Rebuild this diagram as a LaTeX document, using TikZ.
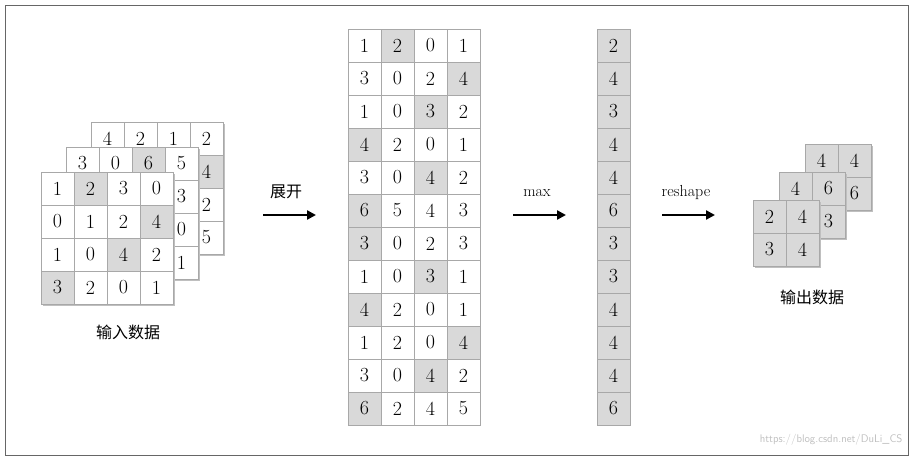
\documentclass[tikz,border=0pt]{standalone}
\usepackage{fontspec}
\newfontfamily\cjk{Noto Sans CJK SC}
\usetikzlibrary{arrows.meta}
\definecolor{cellg}{HTML}{D9D9D9}
\definecolor{linec}{HTML}{A8A8A8}
\tikzset{
  cell/.style={draw=linec, fill=white, minimum size=33pt, inner sep=0pt, outer sep=0pt, font=\fontsize{20}{20}\selectfont},
  gcell/.style={cell, fill=cellg},
  flow/.style={line width=2.6pt, -{Triangle[length=9pt,width=9pt]}},
  lab/.style={font=\fontsize{16}{16}\selectfont},
  cjklab/.style={font=\cjk\fontsize{16}{16}\selectfont},
  shade/.style={fill=black!25}
}
% #1 name, #2 row, #3 x0, #4 y0, #5 values, #6 gray col (0 = all)
\newcommand\gridrow[6]{%
  \foreach \v [count=\c] in {#5} {%
    \ifnum#6=0 \def\st{gcell}\else\ifnum\c=#6 \def\st{gcell}\else\def\st{cell}\fi\fi
    \node[\st] (#1-#2-\c) at ({#3+(\c-0.5)*33},{#4+(#2-0.5)*33}) {\v};
  }}
% #1 x0, #2 y0, #3 cols, #4 rows
\newcommand\gridshade[4]{\fill[shade] ({#1+2},{#2+2}) rectangle ({#1+#3*33+2},{#2+#4*33+2});}
\begin{document}
\begin{tikzpicture}[x=1pt,y=-1pt]
\useasboundingbox (0,0) rectangle (914,460);
\draw[black!60, line width=0.8pt] (5,5) rectangle (908,455);
% input stack
\gridshade{91}{122}{4}{4}
\gridrow{ib}{1}{91}{122}{4,2,1,2}{9}
\gridrow{ib}{2}{91}{122}{,,,4}{4}
\gridrow{ib}{3}{91}{122}{,,,2}{9}
\gridrow{ib}{4}{91}{122}{,,,5}{9}
\gridshade{66}{147}{4}{4}
\gridrow{im}{1}{66}{147}{3,0,6,5}{3}
\gridrow{im}{2}{66}{147}{,,,3}{9}
\gridrow{im}{3}{66}{147}{,,,0}{9}
\gridrow{im}{4}{66}{147}{,,,1}{9}
\gridshade{41}{172}{4}{4}
\gridrow{if}{1}{41}{172}{1,2,3,0}{2}
\gridrow{if}{2}{41}{172}{0,1,2,4}{4}
\gridrow{if}{3}{41}{172}{1,0,4,2}{3}
\gridrow{if}{4}{41}{172}{3,2,0,1}{1}
\node[cjklab] (inlab) at (128,332) {输入数据};
% unfolded
\gridrow{u}{1}{348}{29}{1,2,0,1}{2}
\gridrow{u}{2}{348}{29}{3,0,2,4}{4}
\gridrow{u}{3}{348}{29}{1,0,3,2}{3}
\gridrow{u}{4}{348}{29}{4,2,0,1}{1}
\gridrow{u}{5}{348}{29}{3,0,4,2}{3}
\gridrow{u}{6}{348}{29}{6,5,4,3}{1}
\gridrow{u}{7}{348}{29}{3,0,2,3}{1}
\gridrow{u}{8}{348}{29}{1,0,3,1}{3}
\gridrow{u}{9}{348}{29}{4,2,0,1}{1}
\gridrow{u}{10}{348}{29}{1,2,0,4}{4}
\gridrow{u}{11}{348}{29}{3,0,4,2}{3}
\gridrow{u}{12}{348}{29}{6,2,4,5}{1}
% max column
\foreach \v [count=\r] in {2,4,3,4,4,6,3,3,4,4,4,6} {
  \node[gcell] (m-\r) at (613.5,{29+(\r-0.5)*33}) {\v};
}
% output stack
\gridshade{805}{144}{2}{2}
\gridrow{ob}{1}{805}{144}{4,4}{0}
\gridrow{ob}{2}{805}{144}{,6}{0}
\gridshade{779}{172}{2}{2}
\gridrow{om}{1}{779}{172}{4,6}{0}
\gridrow{om}{2}{779}{172}{,3}{0}
\gridshade{753}{200}{2}{2}
\gridrow{of}{1}{753}{200}{2,4}{0}
\gridrow{of}{2}{753}{200}{3,4}{0}
\node[cjklab] (outlab) at (812,297) {输出数据};
% arrows
\coordinate (a1s) at (263,215); \coordinate (a1e) at (316,215);
\coordinate (a2s) at (513,215); \coordinate (a2e) at (566,215);
\coordinate (a3s) at (662,215); \coordinate (a3e) at (715,215);
\draw[flow] (a1s) -- (a1e);
\draw[flow] (a2s) -- (a2e);
\draw[flow] (a3s) -- (a3e);
\node[cjklab] (l1) at (286,192) {展开};
\node[lab] (l2) at (537,193) {max};
\node[lab] (l3) at (686,193) {reshape};
\node[font=\sffamily\fontsize{11}{11}\selectfont, text=black!25, anchor=east] (wm) at (906,440) {https://blog.csdn.net/DuLi\_CS};
\end{tikzpicture}
\end{document}
